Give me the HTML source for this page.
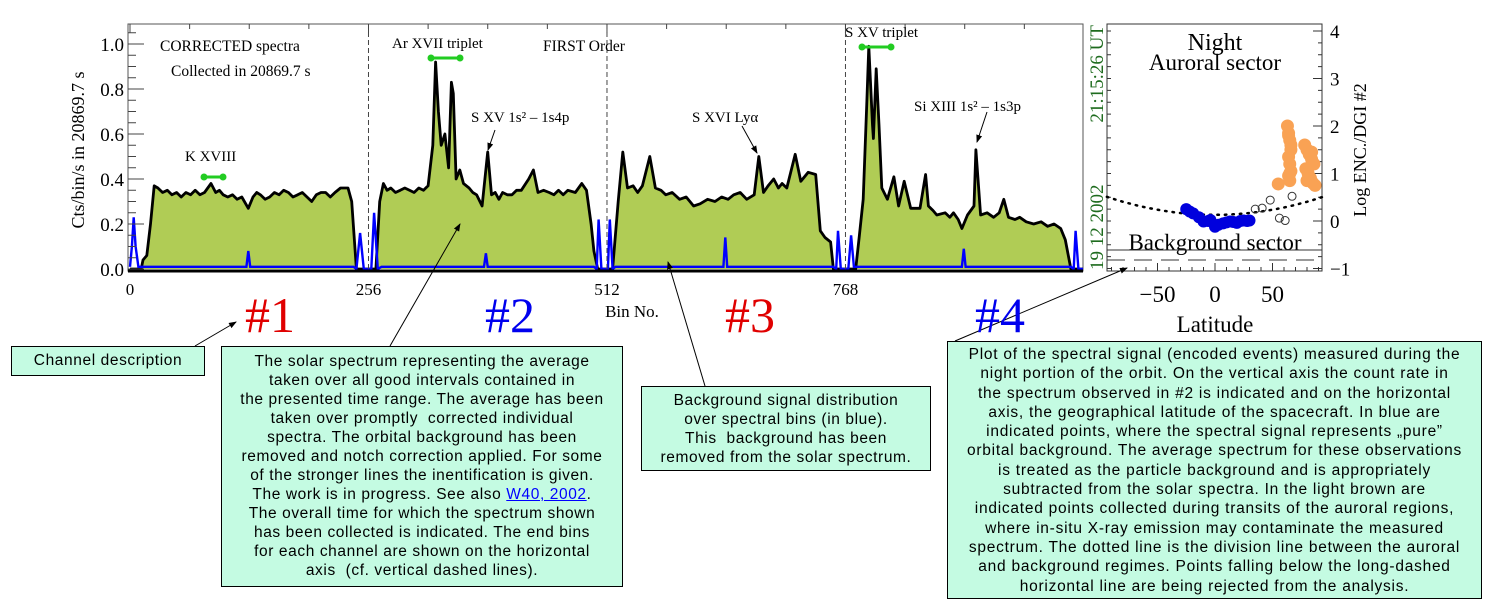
<!DOCTYPE html>
<html><head><meta charset="utf-8"><style>
body{margin:0;background:#fff;width:1492px;height:610px;overflow:hidden;position:relative;font-family:"Liberation Serif",serif}
.box{position:absolute;background:#c4fbe2;border:1px solid #000;font-family:"Liberation Sans",sans-serif;font-size:15.5px;letter-spacing:0.6px;line-height:19px;text-align:center;color:#000;box-sizing:border-box;white-space:nowrap}
.big{position:absolute;font-family:"Liberation Serif",serif;font-size:50px;line-height:50px}
a{color:#00f;text-decoration:underline}
</style></head><body>
<svg id="svg" width="1492" height="610" style="position:absolute;left:0;top:0">
<defs><marker id="ar" markerWidth="8" markerHeight="8" refX="7" refY="4" orient="auto"><path d="M0,1 L8,4 L0,7 z" fill="#000"/></marker></defs>
<g id="main"></g>
<g id="side"></g>
<g id="ann"></g>
</svg>
<div class="big" style="left:245px;top:290px;color:#e00000">#1</div>
<div class="big" style="left:485px;top:290px;color:#0000ee">#2</div>
<div class="big" style="left:725px;top:290px;color:#e00000">#3</div>
<div class="big" style="left:975px;top:290px;color:#0000ee">#4</div>
<div class="box" style="left:11px;top:346px;width:194px;height:30px;line-height:28px">Channel description</div>
<div class="box" style="left:221px;top:346px;width:402px;height:241px;padding-top:5px">The solar spectrum representing the average<br>taken over all good intervals contained in<br>the presented time range. The average has been<br>taken over promptly &nbsp;corrected individual<br>spectra. The orbital background has been<br>removed and notch correction applied. For some<br>of the stronger lines the inentification is given.<br>The work is in progress. See also <a>W40, 2002</a>.<br>The overall time for which the spectrum shown<br>has been collected is indicated. The end bins<br>for each channel are shown on the horizontal<br>axis &nbsp;(cf. vertical dashed lines).</div>
<div class="box" style="left:641px;top:386px;width:290px;height:85px;padding-top:4px">Background signal distribution<br>over spectral bins (in blue).<br>This &nbsp;background has been<br>removed from the solar spectrum.</div>
<div class="box" style="left:947px;top:341px;width:535px;height:258px;padding-top:3px;font-size:15.5px;letter-spacing:0.75px;line-height:19.3px">Plot of the spectral signal (encoded events) measured during the<br>night portion of the orbit. On the vertical axis the count rate in<br>the spectrum observed in #2 is indicated and on the horizontal<br>axis, the geographical latitude of the spacecraft. In blue are<br>indicated points, where the spectral signal represents „pure”<br>orbital background. The average spectrum for these observations<br>is treated as the particle background and is appropriately<br>subtracted from the solar spectra. In the light brown are<br>indicated points collected during transits of the auroral regions,<br>where in-situ X-ray emission may contaminate the measured<br>spectrum. The dotted line is the division line between the auroral<br>and background regimes. Points falling below the long-dashed<br>horizontal line are being rejected from the analysis.</div>
<script>
// ---- spectrum data: [bin, counts] per channel ----
const ch1=[[0,0],[12,0],[14,.04],[18,.06],[22,.2],[26,.37],[30,.36],[35,.34],[40,.35],[45,.33],[50,.34],[55,.32],[60,.34],[65,.33],[70,.35],[75,.33],[80,.34],[87,.38],[92,.34],[96,.35],[100,.33],[105,.32],[110,.33],[115,.31],[120,.32],[127,.27],[132,.32],[136,.34],[140,.33],[145,.31],[150,.32],[155,.34],[160,.33],[165,.35],[170,.34],[175,.32],[180,.33],[185,.34],[190,.32],[195,.30],[200,.33],[205,.34],[210,.34],[215,.32],[220,.34],[226,.36],[234,.36],[238,.3],[243,0],[256,0]];
const ch2=[[264,0],[268,.3],[272,.38],[276,.35],[280,.36],[285,.34],[290,.35],[295,.36],[300,.35],[305,.34],[310,.36],[315,.35],[320,.37],[325,.55],[328,.92],[331,.7],[334,.55],[338,.6],[342,.45],[345,.83],[347,.78],[350,.4],[354,.44],[358,.38],[364,.36],[368,.34],[372,.33],[378,.28],[384,.52],[388,.33],[392,.34],[396,.31],[400,.34],[405,.33],[410,.33],[415,.35],[420,.35],[428,.4],[433,.44],[438,.34],[444,.35],[450,.34],[455,.33],[460,.35],[465,.33],[470,.35],[478,.34],[485,.38],[490,.35],[495,.2],[498,.08],[502,0],[512,0]];
const ch3=[[518,0],[524,.3],[529,.52],[534,.36],[540,.37],[545,.34],[550,.37],[558,.5],[564,.36],[570,.35],[575,.33],[582,.34],[590,.31],[597,.32],[605,.28],[612,.29],[620,.31],[628,.3],[635,.32],[642,.31],[648,.33],[655,.34],[662,.31],[670,.33],[675,.5],[680,.34],[685,.37],[691,.4],[696,.36],[700,.38],[705,.36],[714,.51],[720,.39],[728,.43],[736,.42],[741,.17],[746,.14],[752,.12],[755,0],[768,0]];
const ch4=[[779,0],[783,.15],[787,.31],[791,.75],[793,.99],[797,.64],[798,.58],[801,.89],[804,.64],[807,.36],[813,.31],[820,.41],[825,.28],[831,.39],[838,.27],[848,.27],[854,.42],[857,.28],[862,.26],[866,.24],[875,.25],[880,.23],[884,.25],[889,.22],[893,.18],[899,.24],[906,.28],[908,.53],[913,.24],[920,.25],[927,.23],[933,.25],[938,.31],[943,.23],[950,.22],[955,.23],[962,.21],[970,.2],[978,.21],[985,.19],[992,.2],[999,.18],[1004,.13],[1010,0],[1023,0]];
const background=[[0,.01],[2,.1],[4,.23],[6,.1],[9,.01],[125,.01],[127,.08],[129,.01],[240,.01],[243,0],[247,.16],[251,0],[259,0],[262,.25],[266,0],[270,.01],[380,.01],[382,.07],[384,.01],[498,.01],[501,0],[503,.22],[506,0],[513,0],[515,.22],[518,0],[521,.01],[637,.01],[639,.14],[641,.01],[755,.01],[758,0],[760,.17],[763,0],[771,0],[774,.15],[777,.01],[893,.01],[895,.09],[897,.01],[1010,.01],[1013,0],[1015,.17],[1018,0],[1023,0]];
const yTicks=[0.0,0.2,0.4,0.6,0.8,1.0];
const xTicks=[0,256,512,768];
// ---- latitude panel data ----
const blueLat=[-25,-22,-19,-14,-10,-6,-4,0,3,7,10,13,16,19,22,25,28,30];
const blueLog=[0.25,0.2,0.16,0.08,-0.01,0.0,0.02,-0.12,-0.08,-0.05,-0.03,-0.01,-0.02,-0.04,0.0,0.01,0.0,0.01];
const orangeLat=[55,63,64,65,66,64,65,66,64,65,66,64,65,78,80,82,84,86,79,81,83,85,87,80,84];
const orangeLog=[0.78,2.0,1.85,1.7,1.5,1.35,1.2,1.05,0.95,0.85,1.6,1.8,1.0,1.6,1.5,1.4,1.3,1.2,1.1,1.0,0.9,0.8,0.75,0.85,1.45];
const openLat=[35,41,48,56,61,67];
const openLog=[0.25,0.27,0.44,0.06,0.01,0.52];
const latTicks=[-50,0,50];
const logTicks=[-1,0,1,2,3,4];

const NS="http://www.w3.org/2000/svg";
function mk(parent,tag,attrs,name,txt){const e=document.createElementNS(NS,tag);for(const k in attrs)e.setAttribute(k,attrs[k]);


if(txt!==undefined)e.textContent=txt;parent.appendChild(e);return e;}
const main=document.getElementById('main'),side=document.getElementById('side'),ann=document.getElementById('ann');
const L=128,R=1083,T=24,B=271;
const sx=b=>130+b*0.9316, sy=v=>269-v*225;
mk(main,'rect',{x:L,y:T,width:R-L,height:B-T,fill:'#fff',stroke:'#555','stroke-width':1},'plot-area');
const spec=ch1.concat(ch2,ch3,ch4);
let d='M'+sx(spec[0][0])+','+sy(0);
spec.forEach(p=>d+=' L'+sx(p[0]).toFixed(1)+','+sy(p[1]).toFixed(1));
mk(main,'path',{d:d+' L'+sx(1023)+','+sy(0)+'Z',fill:'#b0cc55',stroke:'none'},'spectrum-fill');
let ln='';spec.forEach((p,i)=>ln+=(i?' L':'M')+sx(p[0]).toFixed(1)+','+sy(p[1]).toFixed(1));
mk(main,'path',{d:ln,fill:'none',stroke:'#000','stroke-width':2.8,'stroke-linejoin':'round'},'solar-spectrum-line');
let bl='';background.forEach((p,i)=>bl+=(i?' L':'M')+sx(p[0]).toFixed(1)+','+sy(p[1]).toFixed(1));
mk(main,'path',{d:bl,fill:'none',stroke:'#0000ff','stroke-width':2.4},'background-line');
mk(main,'line',{x1:L,y1:B,x2:R,y2:B,stroke:'#000','stroke-width':3},'x-axis');
[256,512,768].forEach(b=>mk(main,'line',{x1:sx(b),y1:T,x2:sx(b),y2:B,stroke:'#444','stroke-dasharray':'5,3','stroke-width':1},'channel-divider'));
for(let v=0;v<=1.051;v+=0.05){const maj=Math.abs(v*5-Math.round(v*5))<1e-6;
mk(main,'line',{x1:L,y1:sy(v),x2:L+(maj?16:8),y2:sy(v),stroke:'#444'},'y-tick');}
yTicks.forEach(v=>mk(main,'text',{x:L-4,y:sy(v)+7,'text-anchor':'end','font-size':19},'y-tick-label',v.toFixed(1)));
for(let b=0;b<1024;b+=64){mk(main,'line',{x1:sx(b),y1:T,x2:sx(b),y2:T+(b%256?5:9),stroke:'#444'},'x-tick');}
xTicks.forEach(b=>mk(main,'text',{x:sx(b),y:295,'text-anchor':'middle','font-size':17},'x-tick-label',b));
mk(main,'text',{x:632,y:317,'text-anchor':'middle','font-size':17},'x-axis-title','Bin No.');
mk(main,'text',{x:84,y:150,'text-anchor':'middle','font-size':18,transform:'rotate(-90 84 150)'},'y-axis-title','Cts/bin/s in 20869.7 s');
mk(main,'text',{x:160,y:51,'font-size':15.5},'title','CORRECTED spectra');
mk(main,'text',{x:171,y:76,'font-size':15.5},'collection-time','Collected in 20869.7 s');
mk(main,'text',{x:543,y:51,'font-size':15.5},'order-label','FIRST Order');
mk(main,'text',{x:392,y:48,'font-size':15},'line-label-ar','Ar XVII triplet');
mk(main,'text',{x:185,y:161,'font-size':15},'line-label-k','K XVIII');
mk(main,'text',{x:471,y:122,'font-size':15},'line-label-sxv-4p','S XV 1s\u00b2 \u2013 1s4p');
mk(main,'text',{x:692,y:122,'font-size':15},'line-label-sxvi','S XVI Ly\u03b1');
mk(main,'text',{x:845,y:37,'font-size':15},'line-label-sxv','S XV triplet');
mk(main,'text',{x:914,y:111,'font-size':15},'line-label-si','Si XIII 1s\u00b2 \u2013 1s3p');
[[204,223,177],[431,460,58],[862,891,47]].forEach(g=>{mk(main,'line',{x1:g[0],y1:g[2],x2:g[1],y2:g[2],stroke:'#22cc22','stroke-width':3},'triplet-bar');
mk(main,'circle',{cx:g[0],cy:g[2],r:3.5,fill:'#22cc22'},'triplet-end');mk(main,'circle',{cx:g[1],cy:g[2],r:3.5,fill:'#22cc22'},'triplet-end');});
mk(main,'text',{x:1103,y:270,'font-size':19,fill:'#1e6b1e',transform:'rotate(-90 1103 270)'},'date-label','19 12 2002');
mk(main,'text',{x:1103,y:25,'font-size':19,fill:'#1e6b1e','text-anchor':'end',transform:'rotate(-90 1103 25)'},'time-label','21:15:26 UT');
const SL=1107,SR=1322,ST=24,SB=271;
const lx=v=>1215+v*1.15, ly=v=>221-v*47.5;
mk(side,'rect',{x:SL,y:ST,width:SR-SL,height:SB-ST,fill:'#fff',stroke:'#333'},'side-plot-area');
for(let v=-1;v<=4.01;v+=0.25){const maj=Math.abs(v-Math.round(v))<1e-6;
mk(side,'line',{x1:SR,y1:ly(v),x2:SR-(maj?9:4),y2:ly(v),stroke:'#333'},'log-tick');
mk(side,'line',{x1:SL,y1:ly(v),x2:SL+4,y2:ly(v),stroke:'#333'},'log-tick-left');}
for(let v=-90;v<=90;v+=10){mk(side,'line',{x1:lx(v),y1:SB,x2:lx(v),y2:SB-(v%50?4:8),stroke:'#333'},'lat-tick');}
logTicks.forEach(v=>mk(side,'text',{x:SR+8,y:ly(v)+7,'font-size':19},'log-tick-label',v<0?'\u2212'+(-v):v));
latTicks.forEach(v=>mk(side,'text',{x:lx(v),y:302,'text-anchor':'middle','font-size':23},'lat-tick-label',v<0?'\u2212'+(-v):v));
mk(side,'text',{x:1215,y:332,'text-anchor':'middle','font-size':23},'lat-axis-title','Latitude');
mk(side,'text',{x:1366,y:150,'text-anchor':'middle','font-size':18,transform:'rotate(-90 1366 150)'},'log-axis-title','Log ENC./DGI #2');
mk(side,'text',{x:1215,y:50,'text-anchor':'middle','font-size':24},'night-label','Night');
mk(side,'text',{x:1215,y:70,'text-anchor':'middle','font-size':23},'auroral-label','Auroral sector');
mk(side,'text',{x:1215,y:250,'text-anchor':'middle','font-size':23},'background-label','Background sector');
mk(side,'line',{x1:SL,y1:250,x2:SR,y2:250,stroke:'#333'},'boundary-line');
mk(side,'line',{x1:SL,y1:260,x2:SR,y2:260,stroke:'#333','stroke-dasharray':'18,9'},'rejection-line');
let dd='';for(let v=-94;v<=93;v+=1){const y=0.13+0.38*(v/94)*(v/94);dd+=(v>-94?' L':'M')+lx(v).toFixed(1)+','+ly(y).toFixed(1);}
mk(side,'path',{d:dd,fill:'none',stroke:'#000','stroke-width':2.5,'stroke-dasharray':'1.5,6','stroke-linecap':'round'},'division-line');
blueLat.forEach((v,i)=>mk(side,'circle',{cx:lx(v),cy:ly(blueLog[i]),r:6,fill:'#0000dd'},'background-point'));
orangeLat.forEach((v,i)=>mk(side,'circle',{cx:lx(v),cy:ly(orangeLog[i]),r:6.5,fill:'#f9a254'},'auroral-point'));
openLat.forEach((v,i)=>mk(side,'circle',{cx:lx(v),cy:ly(openLog[i]),r:4,fill:'none',stroke:'#333'},'rejected-point'));
[[195,346,236,322],[390,346,460,224],[705,386,668,262],[955,341,1127,268],[495,130,488,150],[742,126,757,153],[987,112,977,142]].forEach(a=>
mk(ann,'line',{x1:a[0],y1:a[1],x2:a[2],y2:a[3],stroke:'#000','stroke-width':1,'marker-end':'url(#ar)'},'annotation-arrow'));
</script>
</body></html>
